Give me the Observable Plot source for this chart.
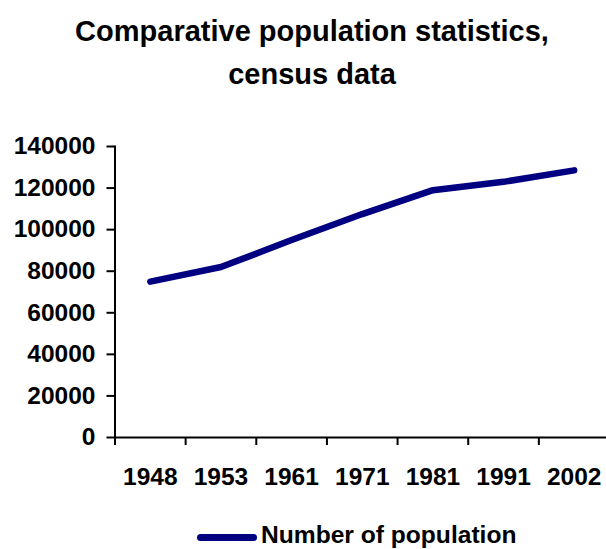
<!DOCTYPE html>
<html><head><meta charset="utf-8">
<script src="https://cdn.jsdelivr.net/npm/d3@7"></script>
<script src="https://cdn.jsdelivr.net/npm/@observablehq/plot@0.6"></script>
<style>
body{margin:0;background:#fff;font-family:"Liberation Sans",Arial,sans-serif;width:606px;height:549px;overflow:hidden;}
#title{height:100px;box-sizing:border-box;padding-top:10px;padding-left:18px;text-align:center;font-weight:bold;font-size:29px;line-height:43px;color:#000;}
#chart svg{display:block;}
#legend{position:relative;height:29px;}
#legend .sw{position:absolute;left:197px;top:13.5px;width:60px;height:7px;border-radius:3.5px;background:#000080;}
#legend span{position:absolute;left:261px;top:2.5px;font-size:24.6px;line-height:24.6px;font-weight:bold;white-space:nowrap;color:#000;}
</style></head><body>
<div id="title">Comparative population statistics,<br>census data</div>
<div id="chart"></div>
<div id="legend"><div class="sw"></div><span id="legendText"></span></div>
<script>
const years = ["1948", "1953", "1961", "1971", "1981", "1991", "2002"];
const population = [75000, 82000, 95000, 107500, 119000, 123000, 128500];
const yTicks = [0, 20000, 40000, 60000, 80000, 100000, 120000, 140000];
const seriesName = "Number of population";
const lineColor = "#000080";

const data = years.map((year, i) => ({i, year, population: population[i]}));
const indices = years.map((_, i) => i);
const boundaries = d3.range(-0.5, years.length, 1);

document.getElementById("legendText").textContent = seriesName;

const plot = Plot.plot({
  width: 606,
  height: 420,
  marginTop: 46,
  marginBottom: 83,
  marginLeft: 114.5,
  marginRight: 0,
  style: {fontFamily: "'Liberation Sans', Arial, sans-serif", fontSize: "24.5px", fontWeight: "bold", color: "#000", background: "#fff", overflow: "visible"},
  x: {type: "linear", domain: [-0.5, years.length - 0.5], range: [114.5, 609]},
  y: {domain: [0, 140000]},
  marks: [
    Plot.axisY({ticks: yTicks, tickSize: 8, tickPadding: 11.5, tickFormat: d => String(d), fontSize: 24.5, fontWeight: "bold", label: null, strokeWidth: 2}),
    Plot.axisX({ticks: boundaries, tickSize: 8, tickFormat: () => "", label: null, strokeWidth: 2}),
    Plot.axisX({ticks: indices, tickSize: 0, tickPadding: 30, tickFormat: i => years[i], fontSize: 24.5, fontWeight: "bold", label: null}),
    Plot.frame({anchor: "left", strokeWidth: 2}),
    Plot.ruleY([0], {strokeWidth: 2}),
    Plot.line(data, {x: "i", y: "population", stroke: lineColor, strokeWidth: 6.5, strokeLinecap: "round", strokeLinejoin: "round"})
  ]
});
document.getElementById("chart").appendChild(plot);
</script>
</body></html>
